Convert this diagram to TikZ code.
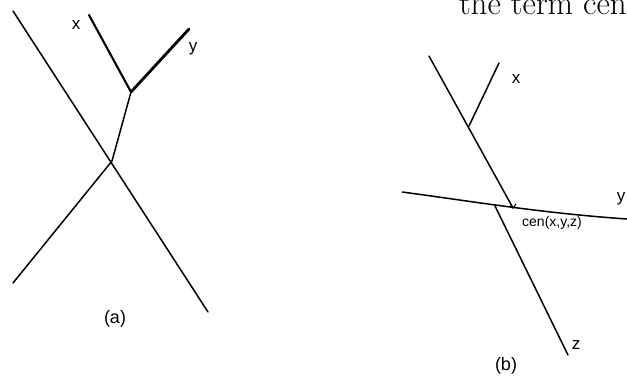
\documentclass[tikz,border=0pt]{standalone}
\usepackage{fontspec}
\setsansfont{Liberation Sans}
\usetikzlibrary{calc}
\begin{document}
\begin{tikzpicture}[x=1pt,y=-1pt,
  thin line/.style={line width=1.5pt,line cap=round},
  mid line/.style={line width=2.1pt,line cap=round},
  thick line/.style={line width=2.8pt,line cap=round},
  lbl/.style={font=\sffamily\fontsize{17}{19}\selectfont,inner sep=0pt},
  caption/.style={font=\sffamily\fontsize{18}{20}\selectfont,inner sep=0pt}]
\useasboundingbox (0,0) rectangle (627,377);
\begin{scope}
\clip (0,0) rectangle (627,377);
\node[anchor=base east,inner sep=0pt,font=\fontsize{33}{36}\selectfont] (hdr) at (627,15) {the term cen};
\end{scope}
% panel (a)
\coordinate (a1) at (13,11);
\coordinate (a2) at (208,312);
\coordinate (a3) at (13,283);
\coordinate (ac) at (112,161);
\coordinate (aj) at (131,92);
\coordinate (ax) at (89,15);
\coordinate (ay) at (189,29);
\draw[thin line] (a1) -- (a2);
\draw[thin line] (a3) -- (ac) -- (aj);
\draw[mid line] (aj) -- (ax);
\draw[thick line] (aj) -- (ay);
\node[lbl] (lx) at (76,25) {x};
\node[lbl] (ly) at (193,49) {y};
\node[caption] (capa) at (115,319) {(a)};
% panel (b)
\coordinate (b1) at (429,56);
\coordinate (bc) at (513,208);
\coordinate (b2) at (495,206);
\coordinate (bz) at (568,355);
\coordinate (bj) at (469,126);
\coordinate (bx) at (499,63);
\coordinate (h1) at (402,192);
\coordinate (h2) at (627,219);
\draw[thin line] (b1) -- (bc);
\draw[line width=1pt] ($(bc)+(-3,-2)$) -- (bc) -- ($(bc)+(3,-4)$);
\draw[thin line] (b2) -- (bz);
\draw[thin line] (bj) -- (bx);
\draw[thin line,line cap=butt] (h1) .. controls (470,201) and (540,213) .. (h2);
\node[lbl] (bxl) at (516,79) {x};
\node[lbl] (byl) at (621,199) {y};
\node[lbl,font=\sffamily\fontsize{14}{16}\selectfont] (cen) at (552,223) {cen(x,y,z)};
\node[lbl] (bzl) at (576,345) {z};
\node[caption] (capb) at (506,366) {(b)};
\end{tikzpicture}
\end{document}
